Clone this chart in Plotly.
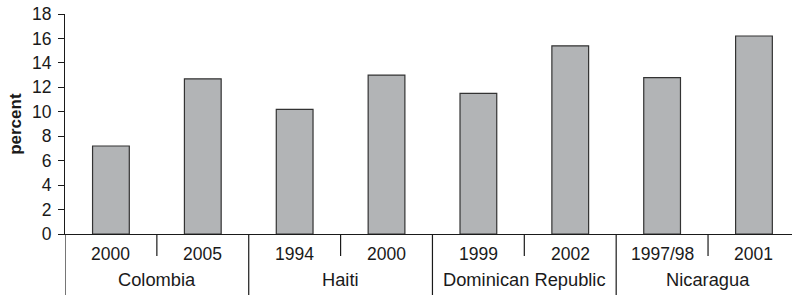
import plotly.graph_objects as go

years = ["2000", "2005", "1994", "2000", "1999", "2002", "1997/98", "2001"]
countries = ["Colombia", "Haiti", "Dominican Republic", "Nicaragua"]
values = [7.2, 12.7, 10.2, 13.0, 11.5, 15.4, 12.8, 16.2]
y_ticks = [0, 2, 4, 6, 8, 10, 12, 14, 16, 18]

FONT = "Liberation Sans, Arial, sans-serif"
INK = "#1a1a1a"
xs = list(range(len(values)))

fig = go.Figure()
fig.add_trace(go.Bar(
    x=xs, y=values, width=0.4,
    marker=dict(color="#b2b4b6", line=dict(color="#333333", width=1.2)),
    hoverinfo="skip",
))

annotations = []
for i, yr in enumerate(years):
    annotations.append(dict(x=i, y=0, xref="x", yref="paper", text=yr,
                            showarrow=False, yanchor="middle", yshift=-20,
                            font=dict(family=FONT, size=17.5, color=INK)))
for j, c in enumerate(countries):
    annotations.append(dict(x=2 * j + 0.5, y=0, xref="x", yref="paper", text=c,
                            showarrow=False, yanchor="middle", yshift=-45,
                            font=dict(family=FONT, size=18.3, color=INK)))
annotations.append(dict(x=-0.069, y=0.5, xref="paper", yref="paper", text="<b>percent</b>",
                        showarrow=False, textangle=-90, xanchor="center", yanchor="middle",
                        font=dict(family=FONT, size=17, color=INK)))

shapes = []
for k in range(len(values)):
    xpos = k - 0.5
    full = (k % 2 == 0)
    shapes.append(dict(type="line", xref="x", yref="paper", ysizemode="pixel", yanchor=0,
                       x0=xpos, x1=xpos, y0=0, y1=-62 if full else -22,
                       line=dict(color=INK, width=1.2)))

fig.update_layout(
    width=792, height=295,
    margin=dict(l=65, r=0, t=14, b=60.5, pad=0),
    paper_bgcolor="white", plot_bgcolor="white",
    showlegend=False,
    annotations=annotations, shapes=shapes,
    xaxis=dict(range=[-0.5, 7.414], showline=True, linecolor=INK, linewidth=1.2,
               showticklabels=False, ticks="", showgrid=False, zeroline=False, fixedrange=True),
    yaxis=dict(range=[0, 18], tickvals=y_ticks, ticks="outside", ticklen=6, tickcolor=INK,
               tickwidth=1.2, showline=True, linecolor=INK, linewidth=1.2, showgrid=False,
               zeroline=False, tickfont=dict(family=FONT, size=17.5, color=INK),
               ticklabelstandoff=3, fixedrange=True),
)
fig.write_html("out.html", config={"displayModeBar": False},
               post_script="document.body.style.margin='0';document.body.style.overflow='hidden';")
